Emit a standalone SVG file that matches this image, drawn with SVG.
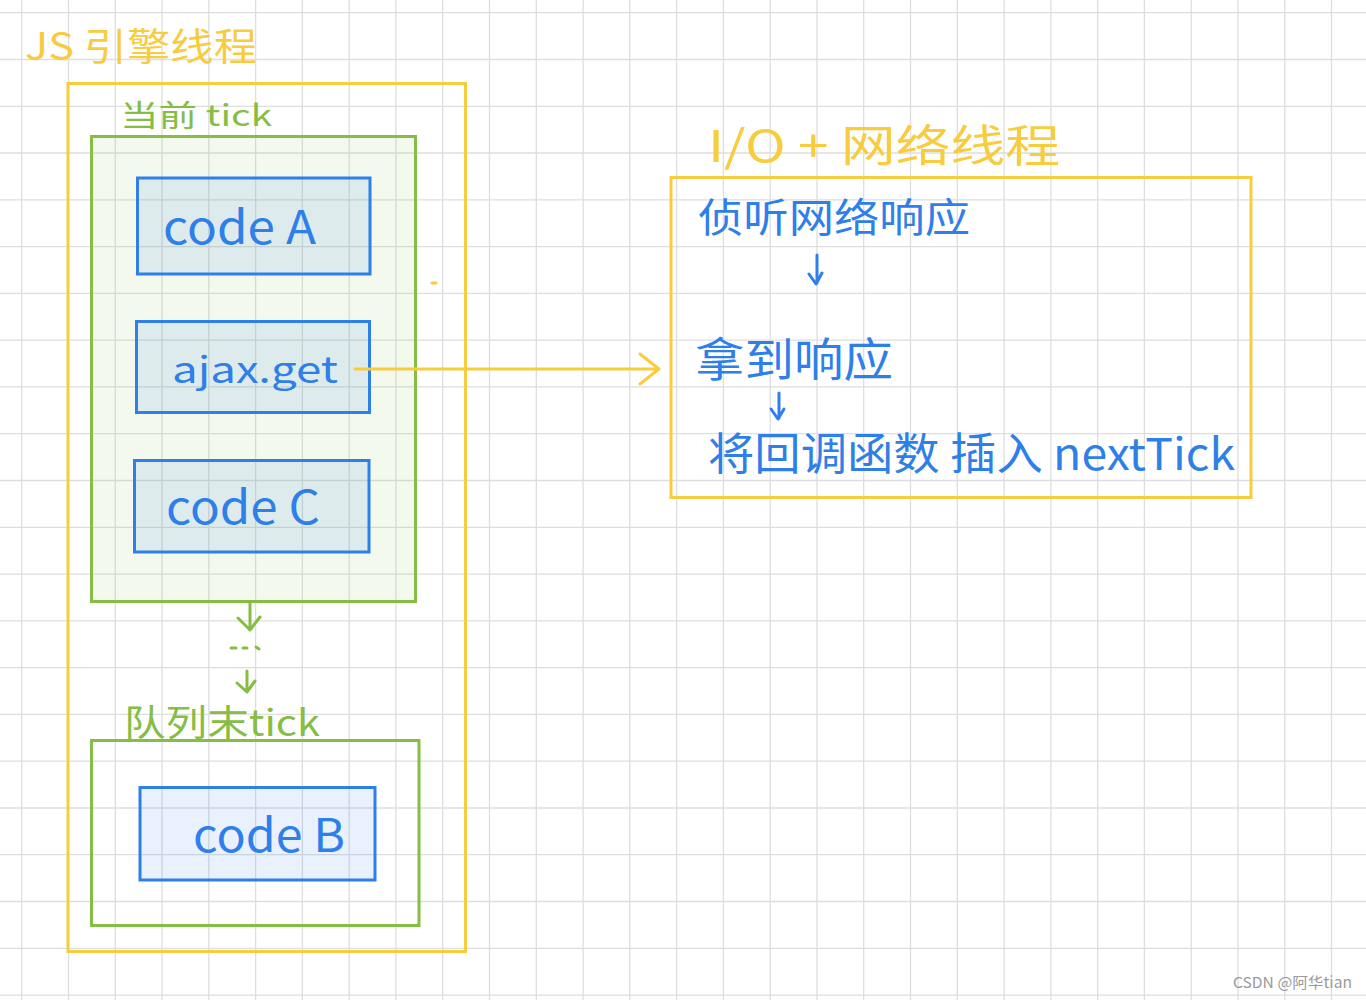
<svg xmlns="http://www.w3.org/2000/svg" width="1366" height="1000" viewBox="0 0 1366 1000">
<defs>
<style>
.grid{stroke:#dedede;stroke-width:1.3;fill:none}
.yl{stroke:#f7cd3f;stroke-width:3;fill:none}
.gr{stroke:#86bd45;stroke-width:3;fill:none}
.grf{fill:#8bc34a;fill-opacity:0.1}
.bl{stroke:#2f7fe9;stroke-width:3;fill:#2f7fe9;fill-opacity:0.11}
.t{font-family:"Noto Sans CJK SC","Liberation Sans",sans-serif}
.ty{fill:#f7cd3f}
.tg{fill:#86bd45}
.tb{fill:#2f7fe9}
.arr{fill:none;stroke-width:3;stroke-linecap:round;stroke-linejoin:round}
</style>
</defs>
<rect width="1366" height="1000" fill="#ffffff"/>
<path class="grid" d="M21.7 0V1000M68.5 0V1000M115.3 0V1000M162 0V1000M208.8 0V1000M255.6 0V1000M302.4 0V1000M349.2 0V1000M395.9 0V1000M442.7 0V1000M489.5 0V1000M536.3 0V1000M583.1 0V1000M629.8 0V1000M676.6 0V1000M723.4 0V1000M770.2 0V1000M817 0V1000M863.7 0V1000M910.5 0V1000M957.3 0V1000M1004.1 0V1000M1050.9 0V1000M1097.6 0V1000M1144.4 0V1000M1191.2 0V1000M1238 0V1000M1284.8 0V1000M1331.5 0V1000M0 12.7H1366M0 59.5H1366M0 106.3H1366M0 153H1366M0 199.8H1366M0 246.6H1366M0 293.4H1366M0 340.2H1366M0 386.9H1366M0 433.7H1366M0 480.5H1366M0 527.3H1366M0 574.1H1366M0 620.8H1366M0 667.6H1366M0 714.4H1366M0 761.2H1366M0 808H1366M0 854.7H1366M0 901.5H1366M0 948.3H1366M0 995.1H1366"/>

<g id="js-thread">
<rect class="yl" x="68" y="83.5" width="397.5" height="868"/>
<text class="t ty" x="25" y="60" font-size="38" textLength="232" lengthAdjust="spacingAndGlyphs">JS 引擎线程</text>
</g>

<g id="current-tick">
<rect class="gr grf" x="91.5" y="136.5" width="324" height="465"/>
<text class="t tg" x="120" y="126" font-size="30" textLength="152" lengthAdjust="spacingAndGlyphs">当前 tick</text>
</g>

<g id="code-a">
<rect class="bl" x="137.5" y="178" width="232.5" height="96"/>
<text class="t tb" x="163" y="244" font-size="46" textLength="153" lengthAdjust="spacingAndGlyphs">code A</text>
</g>

<g id="ajax-get">
<rect class="bl" x="136.5" y="321.5" width="233" height="91"/>
<text class="t tb" x="172" y="383" font-size="36" textLength="166" lengthAdjust="spacingAndGlyphs">ajax.get</text>
</g>

<g id="code-c">
<rect class="bl" x="134.5" y="460.5" width="234.5" height="91.5"/>
<text class="t tb" x="166" y="524" font-size="46" textLength="154" lengthAdjust="spacingAndGlyphs">code C</text>
</g>

<g id="last-tick">
<rect class="gr" x="91.5" y="740.5" width="327.5" height="185"/>
<text class="t tg" x="124" y="736" font-size="36" textLength="196" lengthAdjust="spacingAndGlyphs">队列末tick</text>
</g>

<g id="code-b">
<rect class="bl" x="140" y="787.5" width="235" height="92.5"/>
<text class="t tb" x="193" y="852" font-size="46" textLength="152" lengthAdjust="spacingAndGlyphs">code B</text>
</g>

<g id="io-thread">
<rect class="yl" x="671" y="177.5" width="580" height="320"/>
<text class="t ty" x="708" y="162" font-size="44" textLength="352" lengthAdjust="spacingAndGlyphs">I/O + 网络线程</text>
<text class="t tb" x="698" y="232" font-size="40" textLength="272" lengthAdjust="spacingAndGlyphs">侦听网络响应</text>
<text class="t tb" x="695" y="376" font-size="46" textLength="198" lengthAdjust="spacingAndGlyphs">拿到响应</text>
<text class="t tb" x="708" y="470" font-size="44" textLength="527" lengthAdjust="spacingAndGlyphs">将回调函数 插入 nextTick</text>
</g>

<g id="connectors">
<path class="arr" stroke="#f7cd3f" d="M355 369H658M640 354L659 369L640 384"/>
<path class="arr" stroke="#86bd45" d="M250 603V628M238 618L250 630L260 617"/>
<path class="arr" stroke="#86bd45" d="M231 648h5M243 648h4M256 647l3 2"/>
<path class="arr" stroke="#86bd45" d="M247 671V691M237 683L247 692L255 681"/>
<path class="arr" stroke="#2f7fe9" stroke-width="2.5" d="M817 255V283M809 274L816 284L822 273"/>
<path class="arr" stroke="#2f7fe9" stroke-width="2.5" d="M779 393V418M771 409L778 419L784 409"/>
<path class="arr" stroke="#f7cd3f" stroke-width="1.5" d="M432 283h4"/>
</g>

<text class="t" x="1233" y="988" font-size="15" fill="#9a9a9a" textLength="119" lengthAdjust="spacingAndGlyphs">CSDN @阿华tian</text>
</svg>
